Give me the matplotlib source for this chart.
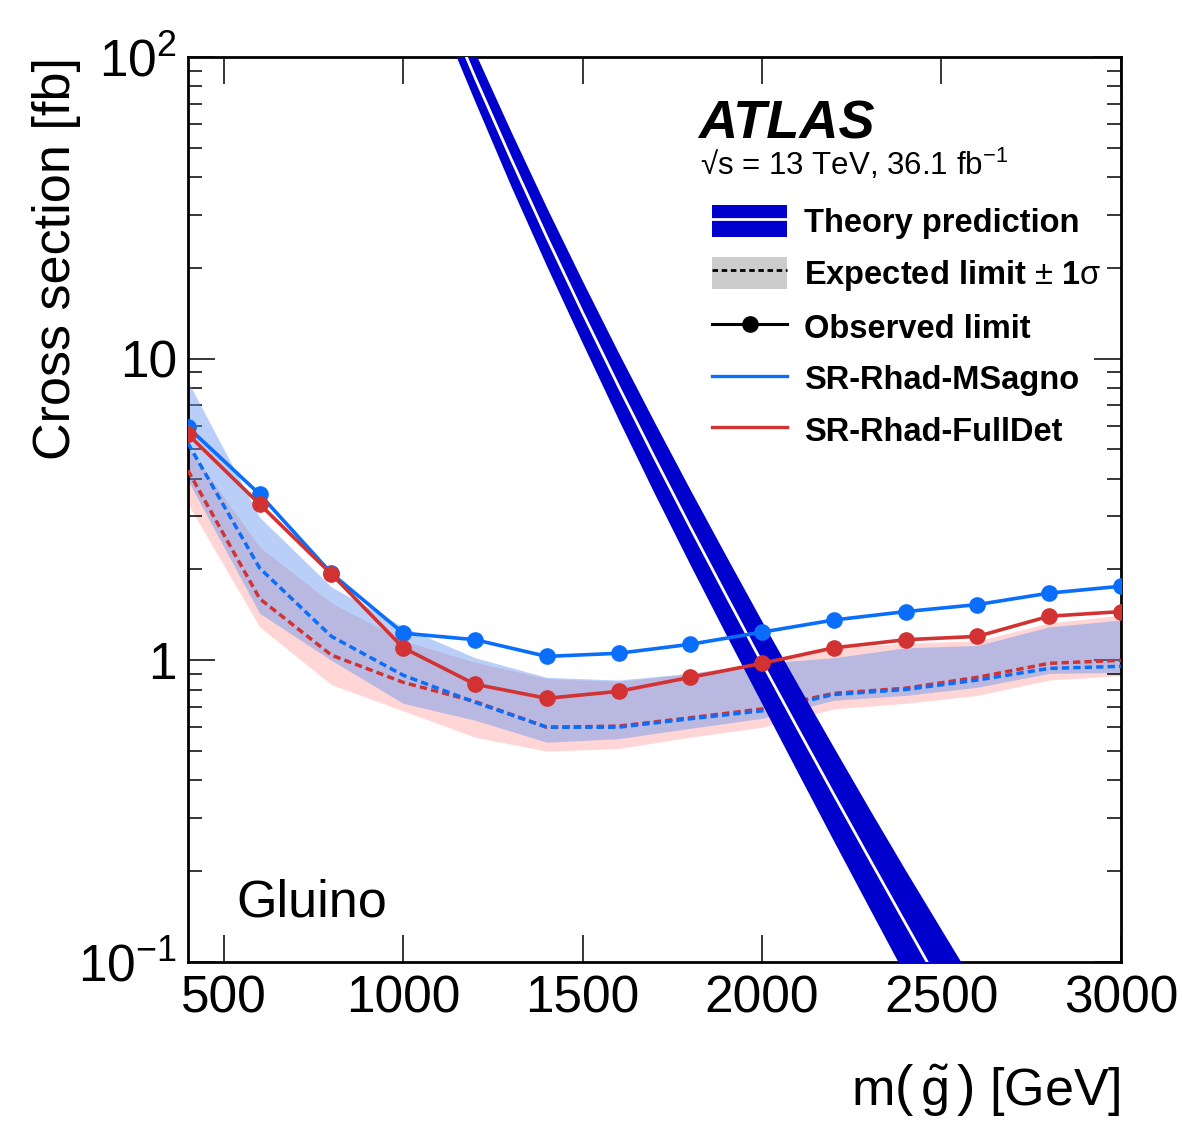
import numpy as np
import matplotlib
matplotlib.use("Agg")
import matplotlib.pyplot as plt
from matplotlib.patches import Patch
from matplotlib.lines import Line2D
from matplotlib.ticker import FixedLocator, LogLocator, NullLocator

plt.rcParams['font.family'] = ['Liberation Sans', 'DejaVu Sans']
plt.rcParams['mathtext.fontset'] = 'custom'
plt.rcParams['mathtext.rm'] = 'Liberation Sans'
plt.rcParams['mathtext.it'] = 'Liberation Sans:italic'
plt.rcParams['mathtext.bf'] = 'Liberation Sans:bold'

# gluino mass points of the limits (GeV)
mass = [400, 600, 800, 1000, 1200, 1400, 1600, 1800, 2000, 2200, 2400, 2600, 2800, 3000]

# SR-Rhad-MSagno (fb)
obs_msagno = [5.92, 3.55, 1.94, 1.23, 1.17, 1.03, 1.055, 1.13, 1.24, 1.36, 1.45, 1.53, 1.67, 1.76]
exp_msagno = [5.24, 2.02, 1.20, 0.892, 0.726, 0.60, 0.60, 0.64, 0.68, 0.77, 0.80, 0.86, 0.94, 0.955]
exp_msagno_up = [8.4, 2.98, 1.75, 1.29, 1.02, 0.878, 0.86, 0.905, 0.977, 1.02, 1.10, 1.12, 1.29, 1.36]
exp_msagno_dn = [3.95, 1.43, 1.0, 0.72, 0.633, 0.535, 0.55, 0.595, 0.642, 0.737, 0.765, 0.814, 0.905, 0.912]

# SR-Rhad-FullDet (fb)
obs_fulldet = [5.61, 3.29, 1.93, 1.10, 0.833, 0.748, 0.789, 0.878, 0.977, 1.10, 1.17, 1.20, 1.40, 1.45]
exp_fulldet = [4.26, 1.60, 1.04, 0.845, 0.73, 0.60, 0.605, 0.645, 0.69, 0.777, 0.808, 0.878, 0.977, 1.0]
exp_fulldet_up = [5.1, 2.37, 1.55, 1.16, 0.985, 0.87, 0.85, 0.905, 0.98, 1.096, 1.14, 1.16, 1.33, 1.41]
exp_fulldet_dn = [3.3, 1.29, 0.83, 0.68, 0.556, 0.50, 0.51, 0.556, 0.60, 0.69, 0.72, 0.765, 0.86, 0.89]

# theory prediction (fb) with relative uncertainties (%)
th_mass = [1100, 1200, 1300, 1400, 1500, 1600, 1700, 1800, 1900, 2000, 2100, 2200, 2300, 2400, 2500, 2600]
th_xsec = [163.5, 85.6, 46.1, 25.3, 14.2, 8.10, 4.70, 2.76, 1.64, 0.981, 0.592, 0.359, 0.219, 0.134, 0.0824, 0.0508]
th_up = [19, 21, 23, 25, 27, 29, 31, 33, 35, 37, 40, 43, 46, 50, 55, 60]
th_dn = [16, 17, 19, 20, 21, 22.5, 24, 25, 26, 27, 28.5, 30, 31.5, 33, 35, 37.5]

c_blue = '#0a6efa'
c_red = '#d23232'
c_theory = '#0000cc'

fig = plt.figure(figsize=(11.82, 11.46), dpi=100)
ax = fig.add_axes([0.159, 0.1606, 0.7893, 0.7897])

# expected +-1 sigma bands
ax.fill_between(mass, exp_fulldet_dn, exp_fulldet_up, color='#ffd5d5', lw=0, zorder=1)
ax.fill_between(mass, exp_msagno_dn, exp_msagno_up, color='#6496f0', alpha=0.45, lw=0, zorder=2)

# expected limits
ax.plot(mass, exp_fulldet, color=c_red, lw=2.5, dashes=(2.1, 1.2), zorder=3)
ax.plot(mass, exp_msagno, color=c_blue, lw=2.5, dashes=(2.1, 1.2), zorder=3)

# theory band
th_x = np.array(th_xsec)
ax.fill_between(th_mass, th_x * (1 - np.array(th_dn) / 100.), th_x * (1 + np.array(th_up) / 100.),
                color=c_theory, lw=0, zorder=4)
ax.plot(th_mass, th_xsec, color='white', lw=2.0, zorder=5)

# observed limits
ax.plot(mass, obs_msagno, color=c_blue, lw=2.6, marker='o', ms=12, mew=0, zorder=6)
ax.plot(mass, obs_fulldet, color=c_red, lw=2.6, marker='o', ms=12, mew=0, zorder=6)

ax.set_yscale('log')
ax.set_xlim(400, 3000)
ax.set_ylim(0.1, 100)

ax.xaxis.set_major_locator(FixedLocator([500, 1000, 1500, 2000, 2500, 3000]))
ax.xaxis.set_minor_locator(NullLocator())
ax.set_yticks([0.1, 1, 10, 100])
ax.set_yticklabels([r'$10^{-1}$', '1', '10', r'$10^{2}$'])
ax.yaxis.set_minor_locator(LogLocator(base=10, subs=np.arange(2, 10)))
ax.yaxis.set_minor_formatter(plt.NullFormatter())

ax.tick_params(which='both', direction='in', top=True, right=True, width=1.1, labelsize=37)
ax.tick_params(which='major', length=19.5)
ax.tick_params(which='minor', length=10)
ax.tick_params(axis='x', pad=9)
ax.tick_params(axis='y', pad=8)
for s in ax.spines.values():
    s.set_linewidth(2)

ax.set_ylabel('Cross section [fb]', fontsize=37.5, loc='top', labelpad=-2)
ax.set_xlabel(r'm$\left(\,\tilde{\mathrm{g}}\,\right)$ [GeV]', fontsize=37.5, loc='right', labelpad=28)

ax.text(0.547, 0.91, 'ATLAS', transform=ax.transAxes, fontsize=39, fontweight='bold',
        fontstyle='italic')
ax.text(0.549, 0.87, '\u221as = 13 TeV, 36.1 fb$^{-1}$', transform=ax.transAxes, fontsize=22.5)
ax.text(0.052, 0.05, 'Gluino', transform=ax.transAxes, fontsize=37.5)

handles = [
    (Patch(color=c_theory, lw=0), Line2D([], [], color='white', lw=2)),
    (Patch(color='#cccccc', lw=0), Line2D([], [], color='black', lw=2, dashes=(2, 1.3))),
    Line2D([], [], color='black', lw=2.2, marker='o', ms=11),
    Line2D([], [], color=c_blue, lw=2.4),
    Line2D([], [], color=c_red, lw=2.4),
]
labels = ['Theory prediction', r'Expected limit $\pm$ 1$\mathrm{\sigma}$', 'Observed limit',
          'SR-Rhad-MSagno', 'SR-Rhad-FullDet']
ax.legend(handles, labels, loc='upper left', bbox_to_anchor=(0.562, 0.836), frameon=False,
          prop={'size': 23.5, 'weight': 'bold'}, handlelength=2.3, handleheight=1.12,
          handletextpad=0.5, labelspacing=0.54, borderpad=0, borderaxespad=0)

fig.savefig('out.png', dpi=100)
